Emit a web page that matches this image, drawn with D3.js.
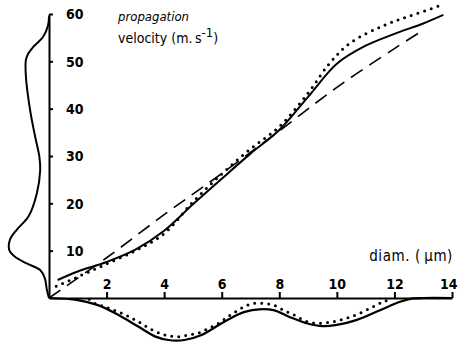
<!DOCTYPE html>
<html>
<head>
<meta charset="utf-8">
<script src="https://cdn.jsdelivr.net/npm/d3@7"></script>
<style>
  body { margin: 0; background: #fff; }
  text { font-family: "DejaVu Sans Condensed", "DejaVu Sans", sans-serif; fill: #000; }
</style>
</head>
<body>
<svg id="chart"></svg>
<script>
const svgWidth = 458, svgHeight = 343;

// velocity vs diameter (solid = measured, dotted = model, dashed = linear fit)
const solidDiam = [0.3, 1, 2, 3, 4, 5, 6, 7, 8, 9, 10, 11, 12, 13, 13.7];
const solidVel  = [3.8, 5.6, 7.6, 10.2, 14.2, 19.8, 25.2, 30.5, 35.5, 42.5, 49.5, 53.3, 55.8, 58, 59.8];
const dotDiam   = [0.25, 0.9, 1.85, 3, 4, 5, 6, 7, 8, 9, 9.75, 10.45, 11.6, 12.5, 13.6];
const dotVel    = [2.5, 4.2, 6.8, 10, 13.6, 20.3, 26.2, 31.5, 36.2, 43.3, 49.6, 53.8, 57.5, 59.5, 61.8];
const dashDiam  = [0, 2, 4, 6, 8, 10, 12, 12.9];
const dashVel   = [0, 8.5, 17.6, 26.3, 35.3, 44.5, 52.7, 56.2];

// velocity distribution (left of y axis)
const velDistVel  = [59.5, 57.7, 55.2, 53.1, 51.7, 50.3, 46.8, 39.7, 34.1, 29.9, 27, 22.1, 17.2, 14.4, 12.3, 10.1, 8.7, 7.3, 5.9, 4.2, 1.7, 0];
const velDistFreq = [0, 0.2, 1.4, 3.7, 4.9, 5.5, 5.5, 4.5, 3.3, 2.3, 2.1, 2.9, 4.9, 7.7, 9.3, 9.45, 8.1, 5.3, 2.1, 1.0, 0.5, 0];

// diameter distribution (below x axis)
const diamDistDiam = [0, 1, 1.7, 2.4, 3.1, 3.7, 4.15, 4.7, 5.3, 6, 6.55, 6.8, 7.3, 7.8, 8.35, 8.95, 9.5, 10, 10.7, 11.5, 12.2, 12.65, 13, 14];
const diamDistFreq = [0, 0.5, 1.7, 4.0, 6.8, 9.2, 10, 10, 8.8, 6.0, 4.0, 3.3, 2.7, 2.9, 4.5, 6.0, 6.7, 6.4, 5.2, 2.9, 0.9, 0.1, 0, 0];
const diamDotDiam  = [1.4, 1.6, 1.95, 2.3, 2.65, 2.95, 3.2, 3.55, 3.85, 4.15, 4.5, 4.85, 5.2, 5.55, 5.9, 6.2, 6.5, 6.8, 7.1, 7.45, 7.8, 8.15, 8.5, 8.95, 9.4, 9.9, 10.35, 10.8, 11.25, 11.6, 11.95];
const diamDotFreq  = [0.3, 1.3, 2.1, 3.0, 4.0, 5.1, 6.0, 7.5, 8.4, 9.0, 9.2, 8.8, 8.3, 7.2, 6.0, 4.5, 3.2, 2.0, 1.3, 1.3, 1.7, 2.9, 4.0, 5.6, 6.0, 5.6, 4.8, 3.6, 2.1, 0.9, 0.3];

const xTicks = [2, 4, 6, 8, 10, 12, 14];
const yTicks = [10, 20, 30, 40, 50, 60];

const chart = d3.select('#chart')
    .attr("width", svgWidth)
    .attr("height", svgHeight);

const xScale = d3.scaleLinear().domain([0, 14]).range([49, 452]);
const yScale = d3.scaleLinear().domain([0, 60]).range([298, 14]);
const freqScale = d3.scaleLinear().domain([0, 10]).range([0, 42]);

const zip = (a, b) => a.map((d, i) => [d, b[i]]);

// axes
const xAxis = d3.axisTop(xScale).tickValues(xTicks).tickSize(6).tickSizeOuter(0).tickPadding(3).tickFormat(d3.format("d"));
const yAxis = d3.axisRight(yScale).tickValues(yTicks).tickSize(4).tickSizeOuter(0).tickPadding(14).tickFormat(d3.format("d"));

const gx = chart.append("g").attr("transform", "translate(0,298)").call(xAxis);
const gy = chart.append("g").attr("transform", "translate(49,0)").call(yAxis);

[gx, gy].forEach(g => {
  g.select(".domain").attr("stroke", "#000").attr("stroke-width", 2);
  g.selectAll(".tick line").attr("stroke", "#000").attr("stroke-width", 2);
  g.selectAll(".tick text")
    .style("font-family", "'DejaVu Sans Condensed', sans-serif")
    .style("font-size", "14px")
    .style("font-weight", "bold")
    .attr("fill", "#000");
});
gy.selectAll(".tick text").attr("text-anchor", "start").attr("x", 17).attr("dy", "0.35em");
// last x label sits against the right edge
gx.selectAll(".tick text").filter(d => d === 14).attr("text-anchor", "end").attr("x", 5);

// velocity curves
const velLine = d3.line()
    .x(d => xScale(d[0]))
    .y(d => yScale(d[1]))
    .curve(d3.curveCatmullRom);

chart.append("path")
    .datum(zip(dashDiam, dashVel))
    .attr("d", velLine)
    .attr("fill", "none")
    .attr("stroke", "#000")
    .attr("stroke-width", 1.6)
    .attr("stroke-dasharray", "14 8");

chart.append("path")
    .datum(zip(solidDiam, solidVel))
    .attr("d", velLine)
    .attr("fill", "none")
    .attr("stroke", "#000")
    .attr("stroke-width", 2);

chart.append("path")
    .datum(zip(dotDiam, dotVel))
    .attr("d", velLine)
    .attr("fill", "none")
    .attr("stroke", "#000")
    .attr("stroke-width", 3)
    .attr("stroke-linecap", "round")
    .attr("stroke-dasharray", "0 7");

// velocity distribution, drawn leftwards from the y axis
const velDist = d3.line()
    .x(d => xScale(0) - freqScale(d[1]))
    .y(d => yScale(d[0]))
    .curve(d3.curveCatmullRom);

chart.append("path")
    .datum(zip(velDistVel, velDistFreq))
    .attr("d", velDist)
    .attr("fill", "none")
    .attr("stroke", "#000")
    .attr("stroke-width", 2);

// diameter distributions, drawn downwards from the x axis
const diamDist = d3.line()
    .x(d => xScale(d[0]))
    .y(d => yScale(0) + freqScale(d[1]))
    .curve(d3.curveCatmullRom);

chart.append("path")
    .datum(zip(diamDistDiam, diamDistFreq))
    .attr("d", diamDist)
    .attr("fill", "none")
    .attr("stroke", "#000")
    .attr("stroke-width", 2.2);

chart.append("path")
    .datum(zip(diamDotDiam, diamDotFreq))
    .attr("d", diamDist)
    .attr("fill", "none")
    .attr("stroke", "#000")
    .attr("stroke-width", 3)
    .attr("stroke-linecap", "round")
    .attr("stroke-dasharray", "0 7");

// labels
chart.append("text")
    .attr("x", 118).attr("y", 21)
    .style("font-size", "13px")
    .style("font-style", "italic")
    .text("propagation");

const vLabel = chart.append("text")
    .attr("x", 118).attr("y", 43)
    .style("font-size", "14px");
vLabel.append("tspan").text("velocity (m.\u2009s");
vLabel.append("tspan").attr("dy", -6).style("font-size", "13px").text("-1");
vLabel.append("tspan").attr("dy", 6).text(")");

chart.append("text")
    .attr("x", 453).attr("y", 261)
    .attr("text-anchor", "end")
    .style("font-size", "15px")
    .style("letter-spacing", "0.6px")
    .text("diam. (\u2009\u03BCm)");
</script>
</body>
</html>
